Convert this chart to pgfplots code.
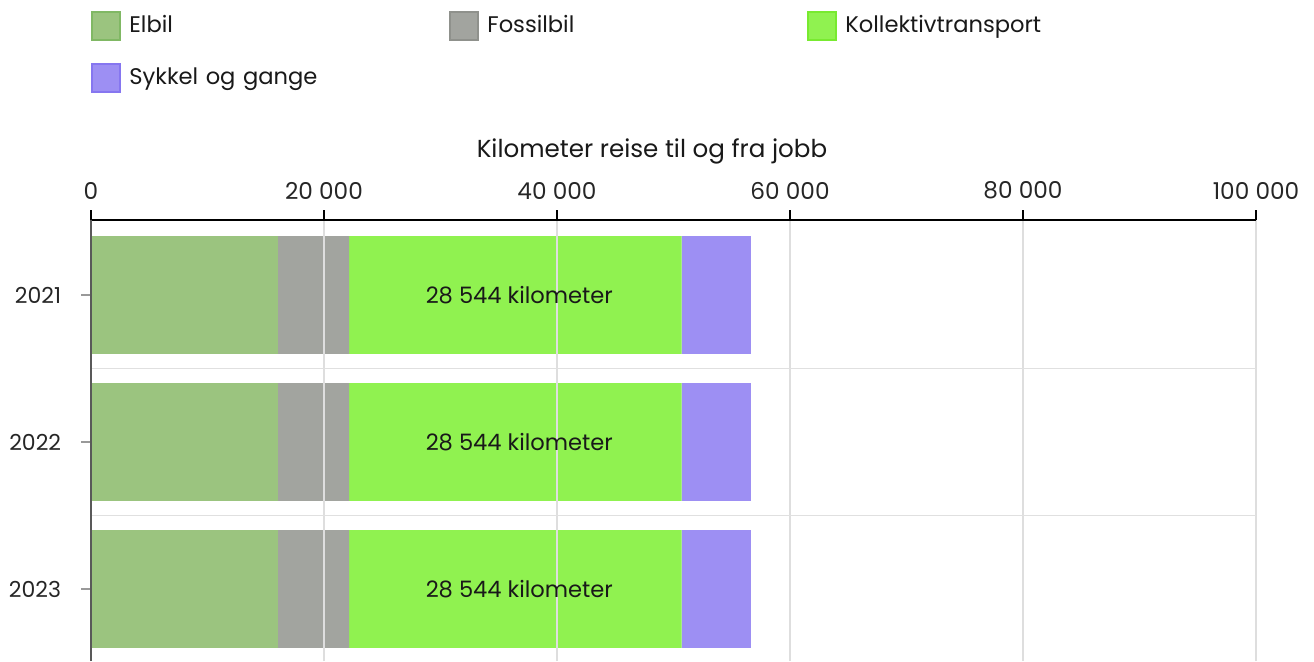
\documentclass[border=0pt]{standalone}
\usepackage{pgfplots}
\pgfplotsset{compat=1.18}
\usepackage{fontspec}
\setmainfont{Poppins}

\definecolor{elbil}{HTML}{9BC47F}
\definecolor{elbild}{HTML}{80B864}
\definecolor{fossil}{HTML}{A2A49F}
\definecolor{fossild}{HTML}{8F918C}
\definecolor{kollektiv}{HTML}{90F250}
\definecolor{kollektivd}{HTML}{78EA30}
\definecolor{sykkel}{HTML}{9D8FF3}
\definecolor{sykkeld}{HTML}{8676F0}

% 1 px of the reference = 0.5pt
\pgfplotsset{
  sq/.style={legend image code/.code={
    \draw[fill=#1, draw=#1d, line width=1pt] (0pt,-7pt) rectangle (14pt,7pt);}},
}

\begin{document}
\fontsize{11.3}{13.5}\selectfont
\begin{tikzpicture}
\useasboundingbox (0,0) rectangle (657pt,330.5pt);
\begin{axis}[
  at={(45.5pt,0pt)}, anchor=south west,
  scale only axis, width=582.5pt, height=220.5pt,
  xbar stacked, bar width=0.8,
  xmin=0, xmax=100000, ymin=-0.49, ymax=2.51,
  axis x line*=top, axis y line*=left,
  x axis line style={black, line width=1pt, -},
  y axis line style={black!65, line width=0.8pt, -},
  scaled x ticks=false,
  xtick={0,20000,40000,60000,80000,100000},
  xticklabels={0,20 000,40 000,60 000,80 000,100 000},
  ytick={0,1,2}, yticklabels={2023,2022,2021},
  minor ytick={0.5,1.5},
  tick align=outside, major tick length=5pt, minor tick length=0pt,
  xtick style={black, line width=0.8pt},
  ytick style={black!40, line width=0.6pt},
  xmajorgrids, yminorgrids,
  major grid style={black!13, line width=0.6pt},
  minor grid style={black!12, line width=0.8pt},
  axis on top,
  tick label style={text=black!85},
  xticklabel style={font=\fontsize{11.6}{13}\selectfont, yshift=1.5pt},
  yticklabel style={font=\fontsize{11}{13}\selectfont, xshift=-6pt},
  title={Kilometer reise til og fra jobb},
  title style={at={(axis description cs:0.4815,1.1292)}, anchor=center, text=black!90,
    font=\fontsize{12.3}{14}\selectfont},
  legend columns=3,
  legend style={at={(axis description cs:0,1.5)}, anchor=north west,
    draw=none, inner sep=0pt, row sep=0pt,
    nodes={text width=160pt, inner xsep=0pt, inner ysep=0pt, minimum height=26pt, align=left, text=black!90},
    /tikz/every odd column/.append style={column sep=4pt},
    /tikz/every even column/.append style={column sep=0pt}},
  legend cell align=left,
]
\addplot[fill=elbil, draw=none, sq=elbil] coordinates {(16050,2) (16050,1) (16050,0)};
\addlegendentry{Elbil}
\addplot[fill=fossil, draw=none, sq=fossil] coordinates {(6100,2) (6100,1) (6100,0)};
\addlegendentry{Fossilbil}
\addplot[fill=kollektiv, draw=none, sq=kollektiv,
  nodes near coords={28 544 kilometer},
  every node near coord/.append style={anchor=center, xshift=2pt, text=black!90}]
  coordinates {(28544,2) (28544,1) (28544,0)};
\addlegendentry{Kollektivtransport}
\addplot[fill=sykkel, draw=none, sq=sykkel] coordinates {(5950,2) (5950,1) (5950,0)};
\addlegendentry{Sykkel og gange}
\end{axis}
\end{tikzpicture}
\end{document}
